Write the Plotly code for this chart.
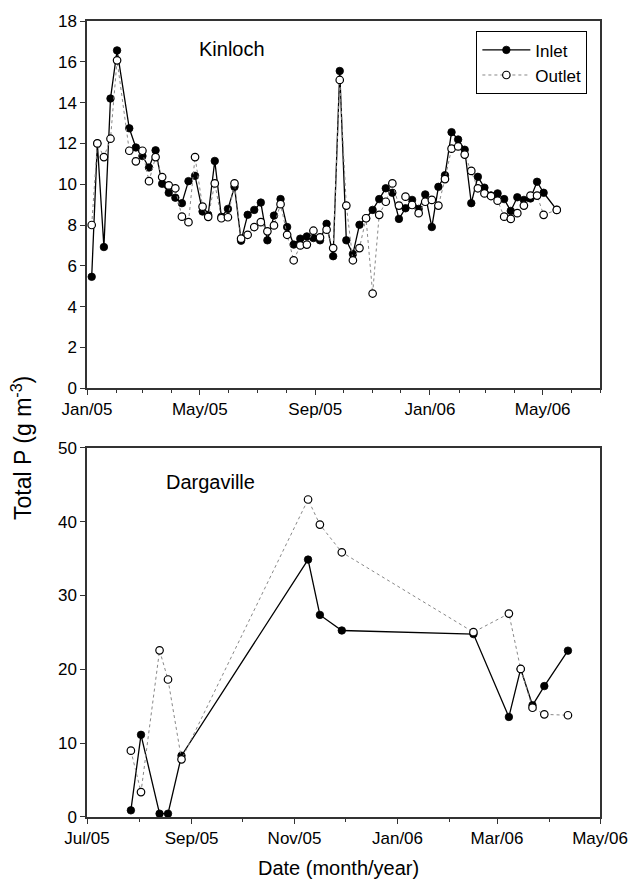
import plotly.graph_objects as go

# ---- Kinloch (top panel) ----
dates_k = ["2005-01-06","2005-01-12","2005-01-19","2005-01-26","2005-02-02","2005-02-15","2005-02-22",
           "2005-03-01","2005-03-08","2005-03-15","2005-03-22","2005-03-29","2005-04-05","2005-04-12",
           "2005-04-19","2005-04-26","2005-05-04","2005-05-10","2005-05-17","2005-05-24","2005-05-31",
           "2005-06-07","2005-06-14","2005-06-21","2005-06-28","2005-07-05","2005-07-12","2005-07-19",
           "2005-07-26","2005-08-02","2005-08-09","2005-08-16","2005-08-23","2005-08-30","2005-09-06",
           "2005-09-13","2005-09-20","2005-09-27","2005-10-04","2005-10-11","2005-10-18","2005-10-25",
           "2005-11-01","2005-11-08","2005-11-15","2005-11-22","2005-11-29","2005-12-06","2005-12-13",
           "2005-12-20","2005-12-27","2006-01-03","2006-01-10","2006-01-17","2006-01-24","2006-01-31",
           "2006-02-07","2006-02-14","2006-02-21","2006-02-28","2006-03-07","2006-03-14","2006-03-21",
           "2006-03-28","2006-04-04","2006-04-11","2006-04-18","2006-04-25","2006-05-02","2006-05-16"]
inlet_k = [5.46, 12.0, 6.92, 14.2, 16.56, 12.74, 11.8, 11.38, 10.82, 11.66, 10.02, 9.58, 9.34, 9.07,
           10.15, 10.41, 8.66, 8.5, 11.14, 8.4, 8.79, 9.87, 7.23, 8.5, 8.74, 9.1, 7.25, 8.46,
           9.27, 7.9, 7.04, 7.33, 7.44, 7.36, 7.25, 8.06, 6.47, 15.55, 7.25, 6.58, 8.01, 8.33,
           8.74, 9.27, 9.8, 9.58, 8.3, 8.82, 9.23, 8.79, 9.5, 7.9, 9.87, 10.44, 12.55, 12.19,
           11.69, 9.07, 10.36, 9.83, 9.45, 9.55, 9.27, 8.69, 9.36, 9.23, 9.3, 10.12, 9.58, 8.74]
outlet_k = [8.0, 12.0, 11.33, 12.23, 16.07, 11.64, 11.12, 11.64, 10.15, 11.33, 10.35, 9.94, 9.8, 8.41,
            8.14, 11.33, 8.9, 8.4, 10.04, 8.33, 8.38, 10.04, 7.33, 7.52, 7.9, 8.14, 7.69, 7.98,
            9.02, 7.52, 6.27, 7.0, 7.04, 7.72, 7.39, 7.77, 6.87, 15.11, 8.95, 6.27, 6.87, 8.33,
            4.64, 8.5, 9.14, 10.04, 8.95, 9.39, 8.98, 8.58, 9.14, 9.23, 8.95, 10.25, 11.74, 11.85,
            11.45, 10.65, 9.8, 9.55, 9.42, 9.19, 8.41, 8.3, 8.58, 8.95, 9.44, 9.44, 8.5, 8.74]

# ---- Dargaville (bottom panel) ----
dates_d = ["2005-07-27","2005-08-02","2005-08-13","2005-08-18","2005-08-26","2005-11-09","2005-11-16",
           "2005-11-29","2006-02-15","2006-03-08","2006-03-15","2006-03-22","2006-03-29","2006-04-12"]
inlet_d = [0.9, 11.13, 0.45, 0.45, 8.3, 34.86, 27.37, 25.26, 24.77, 13.55, 20.05, 15.13, 17.73, 22.53]
outlet_d = [8.98, 3.37, 22.57, 18.62, 7.81, 43.0, 39.6, 35.85, 25.03, 27.55, 20.05, 14.8, 13.9, 13.78]

FONT = "Liberation Sans, Arial, sans-serif"
AX = "#333333"

inlet_style = dict(mode="lines+markers", line=dict(color="black", width=1.3),
                   marker=dict(symbol="circle", size=7.5, color="black", line=dict(color="black", width=0.8)))
outlet_style = dict(mode="lines+markers", line=dict(color="#888888", width=1, dash="dot"),
                    marker=dict(symbol="circle", size=7.5, color="white", line=dict(color="black", width=1.2)))

fig = go.Figure()
fig.add_trace(go.Scatter(x=dates_k, y=inlet_k, name="Inlet", xaxis="x", yaxis="y", **inlet_style))
fig.add_trace(go.Scatter(x=dates_k, y=outlet_k, name="Outlet", xaxis="x", yaxis="y", **outlet_style))
fig.add_trace(go.Scatter(x=dates_d, y=inlet_d, name="Inlet", xaxis="x2", yaxis="y2", showlegend=False, **inlet_style))
fig.add_trace(go.Scatter(x=dates_d, y=outlet_d, name="Outlet", xaxis="x2", yaxis="y2", showlegend=False, **outlet_style))

def xax(rng, dtick, tick0, anchor):
    return dict(range=rng, dtick=dtick, tick0=tick0, tickformat="%b/%y", anchor=anchor,
                ticks="outside", ticklen=5, tickwidth=1.2, tickcolor=AX,
                minor=dict(dtick="M1", ticks="outside", ticklen=3, tickwidth=1, tickcolor=AX),
                showline=True, linecolor=AX, linewidth=1.5, mirror=True,
                showgrid=False, zeroline=False, tickfont=dict(size=17, color="black", family=FONT),
                domain=[0, 1])

def yax(rng, dtick, domain, anchor):
    return dict(range=rng, dtick=dtick, domain=domain, anchor=anchor,
                ticks="outside", ticklen=5, tickwidth=1.2, tickcolor=AX,
                showline=True, linecolor=AX, linewidth=1.5, mirror=True,
                showgrid=False, zeroline=False, tickfont=dict(size=17, color="black", family=FONT))

fig.update_layout(
    width=640, height=882,
    margin=dict(l=87, r=38, t=15, b=65),
    paper_bgcolor="white", plot_bgcolor="white",
    font=dict(family=FONT, color="black"),
    xaxis=xax(["2005-01-01", "2006-07-01"], "M4", "2005-01-01", "y"),
    yaxis=yax([0, 18], 2, [0.5387, 1], "x"),
    xaxis2=xax(["2005-07-01", "2006-05-01"], "M2", "2005-07-01", "y2"),
    yaxis2=yax([0, 50], 10, [0, 0.4638], "x2"),
    legend=dict(x=0.759, y=0.987, xanchor="left", yanchor="top",
                bgcolor="white", bordercolor="black", borderwidth=1, itemwidth=48,
                font=dict(size=17, family=FONT, color="black"), tracegroupgap=0),
    showlegend=True,
    annotations=[
        dict(text="Kinloch", xref="paper", yref="paper", x=0.2136, y=0.965, xanchor="left", yanchor="middle",
             showarrow=False, font=dict(size=20, family=FONT, color="black")),
        dict(text="Dargaville", xref="paper", yref="paper", x=0.151, y=0.421, xanchor="left", yanchor="middle",
             showarrow=False, font=dict(size=20, family=FONT, color="black")),
        dict(text="Total P (g m<sup>-3</sup>)", xref="paper", yref="paper", x=-0.128, y=0.464,
             xanchor="center", yanchor="middle", textangle=-90, showarrow=False,
             font=dict(size=23, family=FONT, color="black")),
        dict(text="Date (month/year)", xref="paper", yref="paper", x=0.49, y=-0.0636,
             xanchor="center", yanchor="middle", showarrow=False,
             font=dict(size=20, family=FONT, color="black")),
    ],
)

fig.write_html("out.html")
